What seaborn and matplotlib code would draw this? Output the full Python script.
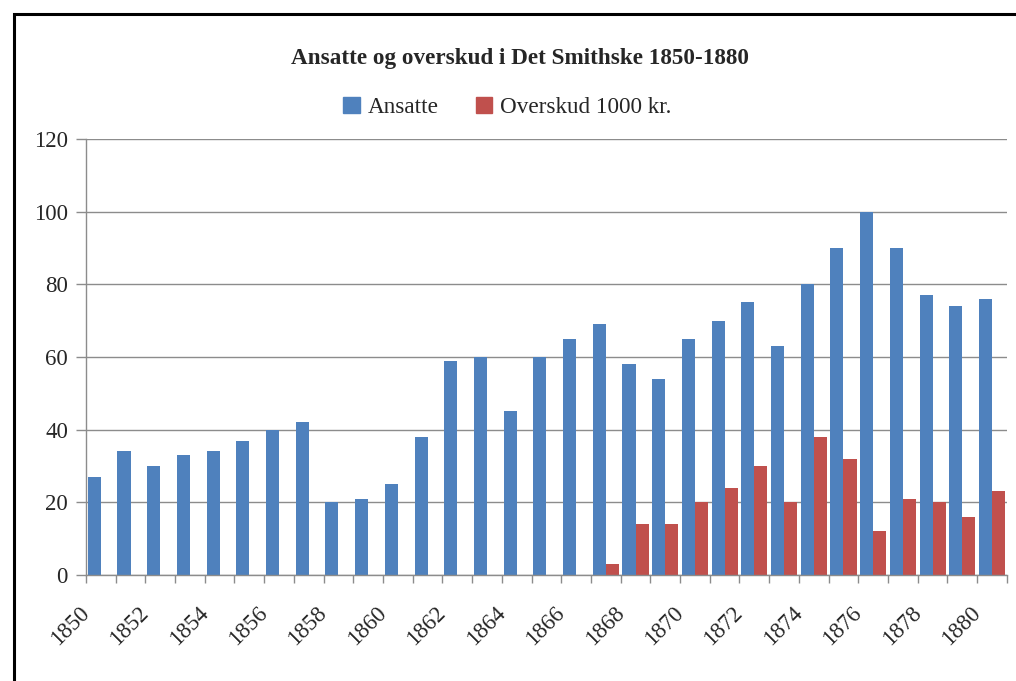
import matplotlib
matplotlib.use("Agg")
import matplotlib.pyplot as plt
import matplotlib.patches as mpatches
import matplotlib.transforms as mtransforms
import seaborn as sns
import pandas as pd
import numpy as np

years = list(range(1850, 1881))
ansatte = [27, 34, 30, 33, 34, 37, 40, 42, 20, 21, 25, 38, 59, 60, 45, 60, 65,
           69, 58, 54, 65, 70, 75, 63, 80, 90, 100, 90, 77, 74, 76]
overskud_years = list(range(1867, 1881))
overskud = [3, 14, 14, 20, 24, 30, 20, 38, 32, 12, 21, 20, 16, 23]
series_names = ["Ansatte", "Overskud 1000 kr."]
colors = ["#4F81BD", "#C0504D"]
title = "Ansatte og overskud i Det Smithske 1850-1880"
yticks = [0, 20, 40, 60, 80, 100, 120]

sns.set_style("white")
plt.rcParams['font.family'] = ['Liberation Serif', 'DejaVu Serif']

ov_map = dict(zip(overskud_years, overskud))
rows = []
for y, a in zip(years, ansatte):
    rows.append({"year": str(y), "series": series_names[0], "value": a})
    rows.append({"year": str(y), "series": series_names[1],
                 "value": ov_map.get(y, np.nan)})
df = pd.DataFrame(rows)

fig = plt.figure(figsize=(10.16, 6.81), dpi=100)
ax = fig.add_axes([0.0846, 0.1557, 0.9064, 0.6402])

sns.barplot(data=df, x="year", y="value", hue="series", hue_order=series_names,
            palette=colors, width=0.88, dodge=True, saturation=1, ax=ax,
            legend=False, errorbar=None, linewidth=0, edgecolor="none")

ax.set_xlim(-0.5, len(years) - 0.5)
ax.set_ylim(0, 120)
ax.set_yticks(yticks)
ax.set_yticklabels([str(v) for v in yticks], fontsize=16.5)
ax.yaxis.grid(True, color="#8c8c8c", linewidth=1.0)
ax.set_axisbelow(True)
ax.set_xlabel("")
ax.set_ylabel("")

# x ticks: labels every other year, tick marks at category boundaries
ax.set_xticks(list(range(0, len(years), 2)))
ax.set_xticklabels([str(years[i]) for i in range(0, len(years), 2)],
                   rotation=45, ha="right", rotation_mode="anchor", fontsize=16.5)
ax.set_xticks(np.arange(-0.5, len(years), 1.0), minor=True)
ax.tick_params(axis="x", which="major", length=0, pad=20)
ax.tick_params(axis="x", which="minor", length=6, color="#8c8c8c", width=1,
               bottom=True, direction="out")
ax.tick_params(axis="y", which="major", length=7, color="#8c8c8c", width=1,
               pad=6, left=True, direction="out")

shift = mtransforms.ScaledTranslation(-22 / 100, 0, fig.dpi_scale_trans)
for lbl in ax.get_xticklabels():
    lbl.set_transform(lbl.get_transform() + shift)

for s in ["top", "right"]:
    ax.spines[s].set_visible(False)
for s in ["left", "bottom"]:
    ax.spines[s].set_color("#8c8c8c")
    ax.spines[s].set_linewidth(1.0)

fig.text(0.512, 0.914, title, ha="center", va="center", fontsize=16.7,
         fontweight="bold")

handles = [mpatches.Patch(color=c, label=n) for c, n in zip(colors, series_names)]
fig.legend(handles=handles, loc="center", bbox_to_anchor=(0.4995, 0.842), ncol=2,
           frameon=False, fontsize=16.7, handlelength=0.7, handleheight=0.7,
           handletextpad=0.35, columnspacing=1.6)

# outer frame
frame = mpatches.Rectangle((14 / 1016, -0.05), 1.1, 1 - 14 / 681 + 0.05,
                           transform=fig.transFigure, fill=False,
                           edgecolor="black", linewidth=2.2, clip_on=False)
fig.patches.append(frame)

fig.savefig("out.png", dpi=100)
